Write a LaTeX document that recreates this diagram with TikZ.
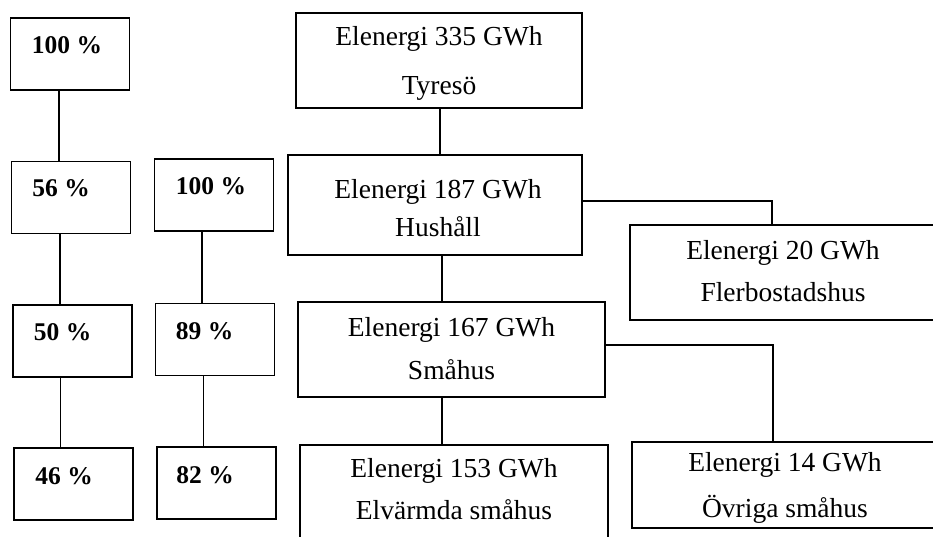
\documentclass[tikz,border=0pt]{standalone}
\usepackage{fontspec}
\setmainfont{Liberation Serif}
\begin{document}
\begin{tikzpicture}[x=1pt,y=-1pt,
  bx/.style={draw, line width=1.5pt, inner sep=0pt},
  pbox/.style={bx, minimum width=119pt, minimum height=72pt},
  ptext/.style={anchor=base west, inner sep=0pt, font=\fontsize{25.5}{29}\selectfont\bfseries},
  etext/.style={anchor=base, inner sep=0pt, font=\fontsize{27.5}{31}\selectfont},
  link/.style={line width=1.2pt}
]
\useasboundingbox (0,0) rectangle (933,536);
\clip (0,0) rectangle (933,536);

% percentage column 1
\node[pbox] (P1) at (70,54) {};
\node[pbox] (P2) at (71,197.5) {};
\node[pbox] (P3) at (72.5,341) {};
\node[pbox] (P4) at (73.5,484) {};
% percentage column 2
\node[pbox] (Q1) at (214,195) {};
\node[pbox] (Q2) at (215,339.5) {};
\node[pbox] (Q3) at (216.5,483) {};

\node[ptext] (p1) at ([xshift=22pt,yshift=-36.5pt]P1.north west) {100 \%};
\node[ptext] (p2) at ([xshift=21.5pt,yshift=-36pt]P2.north west) {56 \%};
\node[ptext] (p3) at ([xshift=21.5pt,yshift=-36.5pt]P3.north west) {50 \%};
\node[ptext] (p4) at ([xshift=22pt,yshift=-37pt]P4.north west) {46 \%};
\node[ptext] (q1) at ([xshift=22pt,yshift=-36.5pt]Q1.north west) {100 \%};
\node[ptext] (q2) at ([xshift=21pt,yshift=-37pt]Q2.north west) {89 \%};
\node[ptext] (q3) at ([xshift=20pt,yshift=-37pt]Q3.north west) {82 \%};

\draw[link] ([xshift=-11pt]P1.south) -- ([xshift=-11pt]P1.south |- P2.north);
\draw[link] ([xshift=-11pt]P2.south) -- ([xshift=-11pt]P2.south |- P3.north);
\draw[link] ([xshift=-12pt]P3.south) -- ([xshift=-12pt]P3.south |- P4.north);
\draw[link] ([xshift=-12pt]Q1.south) -- ([xshift=-12pt]Q1.south |- Q2.north);
\draw[link] ([xshift=-11.5pt]Q2.south) -- ([xshift=-11.5pt]Q2.south |- Q3.north);

% energy boxes
\node[bx, minimum width=286pt, minimum height=95pt] (T) at (439,60.5) {};
\node[bx, minimum width=294pt, minimum height=100pt] (H) at (435,205) {};
\node[bx, minimum width=307pt, minimum height=95pt] (S) at (451.5,349.5) {};
\node[bx, minimum width=308pt, minimum height=125pt] (E) at (454,507.5) {};
\node[bx, minimum width=306pt, minimum height=95pt] (F) at (783,272.5) {};
\node[bx, minimum width=306pt, minimum height=86pt] (O) at (785,485) {};

\node[etext] (T1) at ([yshift=-33.5pt]T.north) {Elenergi 335 GWh};
\node[etext] (T2) at ([yshift=-82pt]T.north) {Tyresö};
\node[etext] (H1) at ([xshift=3pt,yshift=-44pt]H.north) {Elenergi 187 GWh};
\node[etext] (H2) at ([xshift=3pt,yshift=-82pt]H.north) {Hushåll};
\node[etext] (S1) at ([yshift=-35pt]S.north) {Elenergi 167 GWh};
\node[etext] (S2) at ([yshift=-78pt]S.north) {Småhus};
\node[etext] (E1) at ([yshift=-33pt]E.north) {Elenergi 153 GWh};
\node[etext] (E2) at ([yshift=-75pt]E.north) {Elvärmda småhus};
\node[etext] (F1) at ([yshift=-35pt]F.north) {Elenergi 20 GWh};
\node[etext] (F2) at ([yshift=-77pt]F.north) {Flerbostadshus};
\node[etext] (O1) at ([yshift=-30pt]O.north) {Elenergi 14 GWh};
\node[etext] (O2) at ([yshift=-76pt]O.north) {Övriga småhus};

\draw[link] ([xshift=1pt]T.south) -- ([xshift=1pt]T.south |- H.north);
\draw[link] ([xshift=7pt]H.south) -- ([xshift=7pt]H.south |- S.north);
\draw[link] ([xshift=-9.5pt]S.south) -- ([xshift=-9.5pt]S.south |- E.north);
\draw[link] ([yshift=4pt]H.east) -| ([xshift=-11pt]F.north);
\draw[link] ([yshift=4.5pt]S.east) -| ([xshift=-12pt]O.north);
\end{tikzpicture}
\end{document}
